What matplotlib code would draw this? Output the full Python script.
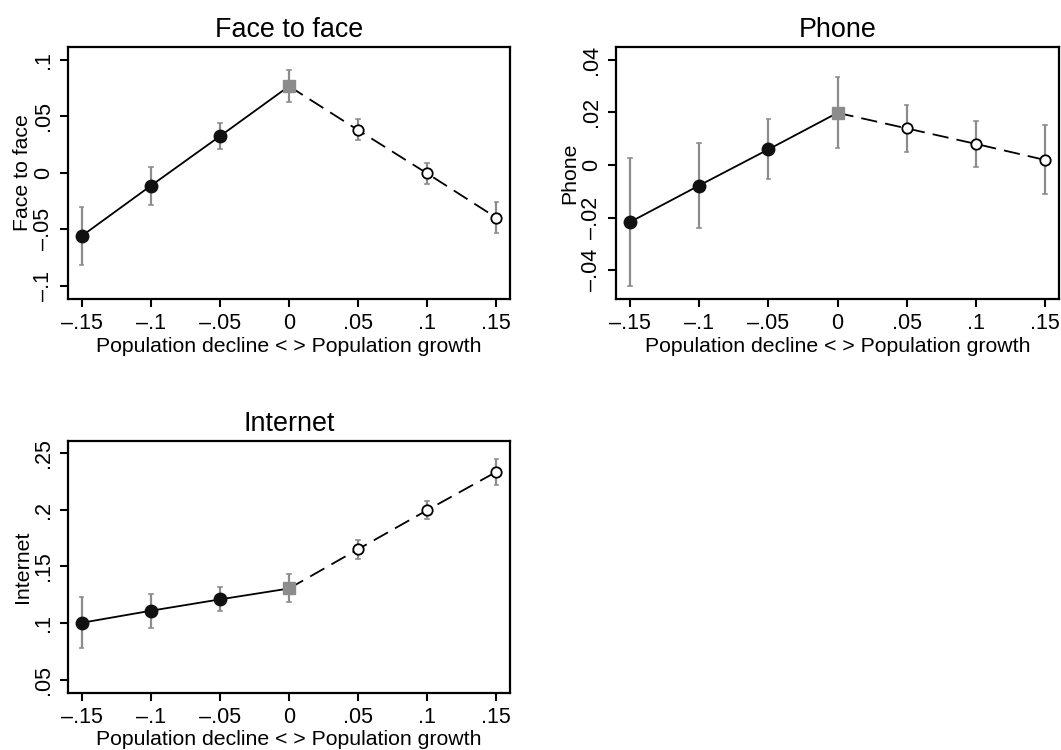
import matplotlib
matplotlib.use("Agg")
import matplotlib.pyplot as plt

plt.rcParams['font.family'] = ['Liberation Sans', 'DejaVu Sans']

# population change bins
x = [-0.15, -0.10, -0.05, 0.0, 0.05, 0.10, 0.15]
xticklabels = ['\u2013.15', '\u2013.1', '\u2013.05', '0', '.05', '.1', '.15']
xlabel = 'Population decline < > Population growth'

# Face to face: estimate, lower CI, upper CI
f2f = [-0.056, -0.0115, 0.0324, 0.0767, 0.0378, -0.0006, -0.0398]
f2f_lo = [-0.0817, -0.0286, 0.0209, 0.0628, 0.0289, -0.0100, -0.0531]
f2f_hi = [-0.0307, 0.0053, 0.0442, 0.0909, 0.0472, 0.0083, -0.0260]
f2f_ticks = [-0.1, -0.05, 0, 0.05, 0.1]
f2f_labels = ['\u2013.1', '\u2013.05', '0', '.05', '.1']

# Phone
phone = [-0.0217, -0.0078, 0.0059, 0.0198, 0.0139, 0.0080, 0.0019]
phone_lo = [-0.0459, -0.0241, -0.0053, 0.0063, 0.0051, -0.0006, -0.0112]
phone_hi = [0.0028, 0.0085, 0.0174, 0.0335, 0.0227, 0.0166, 0.0152]
phone_ticks = [-0.04, -0.02, 0, 0.02, 0.04]
phone_labels = ['\u2013.04', '\u2013.02', '0', '.02', '.04']

# Internet
net = [0.1004, 0.1110, 0.1210, 0.1306, 0.1652, 0.1996, 0.2333]
net_lo = [0.0784, 0.0962, 0.1107, 0.1189, 0.1570, 0.1914, 0.2216]
net_hi = [0.1227, 0.1257, 0.1315, 0.1437, 0.1732, 0.2076, 0.2450]
net_ticks = [0.05, 0.1, 0.15, 0.2, 0.25]
net_labels = ['.05', '.1', '.15', '.2', '.25']

GRAY = '#8c8c8c'


def panel(ax, y, lo, hi, title, yticks, ylabels, ylim):
    # confidence intervals
    ax.vlines(x, lo, hi, color=GRAY, lw=1.6, zorder=1)
    for xi, a, b in zip(x, lo, hi):
        ax.plot([xi - 0.0012, xi + 0.0012], [a, a], color=GRAY, lw=1.2, zorder=1)
        ax.plot([xi - 0.0012, xi + 0.0012], [b, b], color=GRAY, lw=1.2, zorder=1)
    # decline part (solid) and growth part (dashed)
    ax.plot(x[:4], y[:4], color='black', lw=1.3, zorder=2)
    ax.plot(x[3:], y[3:], color='black', lw=1.3, ls=(0, (9, 4.5)), zorder=2)
    ax.plot(x[:3], y[:3], 'o', ms=9, color='#111111', zorder=3)
    ax.plot(x[4:], y[4:], 'o', ms=7.5, mfc='white', mec='black', mew=1.3, zorder=3)
    ax.plot(x[3], y[3], 's', ms=8.5, color=GRAY, zorder=3)

    ax.set_xlim(-0.16, 0.16)
    ax.set_ylim(*ylim)
    ax.set_xticks(x)
    ax.set_xticklabels(xticklabels)
    ax.set_yticks(yticks)
    ax.set_yticklabels(ylabels, rotation=90, va='center')
    ax.tick_params(direction='out', length=6, width=1.5, labelsize=15.5, pad=4)
    for s in ax.spines.values():
        s.set_linewidth(1.6)
    ax.set_title(title, fontsize=19.4, pad=7)
    ax.set_ylabel(title, fontsize=15.3, labelpad=1)
    ax.set_xlabel(xlabel, fontsize=15.3, labelpad=2)


fig = plt.figure(figsize=(10.61, 7.5), dpi=100)
ax1 = fig.add_axes([0.0641, 0.6009, 0.4166, 0.3368])
ax2 = fig.add_axes([0.5806, 0.6009, 0.4175, 0.3368])
ax3 = fig.add_axes([0.0641, 0.0764, 0.4166, 0.3360])

panel(ax1, f2f, f2f_lo, f2f_hi, 'Face to face', f2f_ticks, f2f_labels, (-0.1122, 0.1117))
panel(ax2, phone, phone_lo, phone_hi, 'Phone', phone_ticks, phone_labels, (-0.0510, 0.0449))
panel(ax3, net, net_lo, net_hi, 'Internet', net_ticks, net_labels, (0.0388, 0.2608))

fig.savefig('out.png', dpi=100)
